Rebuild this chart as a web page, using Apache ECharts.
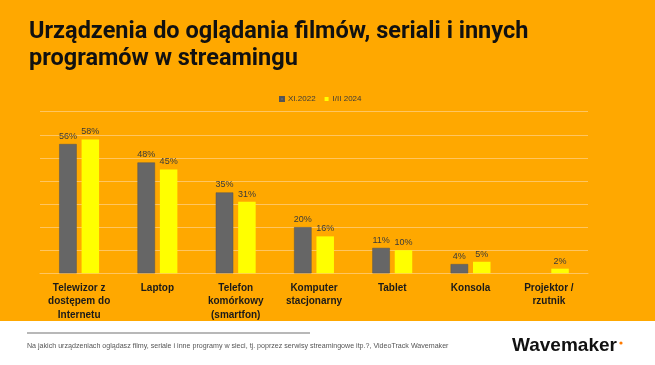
<!DOCTYPE html>
<html>
<head>
<meta charset="utf-8">
<script src="https://cdn.jsdelivr.net/npm/echarts@6/dist/echarts.min.js"></script>
<style>html,body{margin:0;padding:0;background:#fff}#c{width:655px;height:365px}</style>
</head>
<body>
<div id="c"></div>
<script>
const categories = ["Telewizor z\ndostępem do\nInternetu", "Laptop", "Telefon\nkomórkowy\n(smartfon)", "Komputer\nstacjonarny", "Tablet", "Konsola", "Projektor /\nrzutnik"];
const seriesNames = ["XI.2022", "I/II 2024"];
const valuesXI2022 = [56, 48, 35, 20, 11, 4, null];
const valuesI2024 = [58, 45, 31, 16, 10, 5, 2];
const yTicks = { min: 0, max: 70, interval: 10 };
const titleText = "Urządzenia do oglądania filmów, seriali i innych\nprogramów w streamingu";
const footnote = "Na jakich urządzeniach oglądasz filmy, seriale i inne programy w sieci, tj. poprzez serwisy streamingowe itp.?, VideoTrack Wavemaker";
const brand = "Wavemaker";

const chart = echarts.init(document.getElementById('c'), null, { renderer: 'canvas' });
const labelCfg = {
  show: true, position: 'top', distance: 3,
  formatter: p => p.value == null ? '' : p.value + '%',
  fontFamily: 'Liberation Sans', fontSize: 9, color: '#3a3a3a'
};
chart.setOption({
  backgroundColor: '#FFA800',
  animation: false,
  title: {
    text: titleText, left: 24, top: 14,
    textStyle: { fontFamily: 'Roboto', fontWeight: 700, fontSize: 23.5, lineHeight: 26.5, color: '#111' }
  },
  legend: {
    data: seriesNames, top: 90, left: 274,
    itemWidth: 4, itemHeight: 4, itemGap: 9,
    icon: 'rect',
    textStyle: { fontFamily: 'Liberation Sans', fontSize: 8, color: '#3a3a3a', padding: [0, 0, 0, -1] }
  },
  grid: { left: 40, right: 67, top: 111.7, bottom: 91.7 },
  xAxis: {
    type: 'category', data: categories,
    axisLine: { show: true, lineStyle: { color: '#FFC560', width: 1 } },
    axisTick: { show: false },
    axisLabel: { interval: 0, margin: 8, fontFamily: 'Liberation Sans', fontWeight: 'bold', fontSize: 10, lineHeight: 13.5, color: '#1a1a1a' }
  },
  yAxis: {
    type: 'value', min: yTicks.min, max: yTicks.max, interval: yTicks.interval,
    axisLabel: { show: false }, axisLine: { show: false }, axisTick: { show: false },
    splitLine: { lineStyle: { color: '#FFC560', width: 1 } }
  },
  series: [
    { name: seriesNames[0], type: 'bar', data: valuesXI2022, barWidth: 17.5, barGap: '28%',
      itemStyle: { color: '#666666', borderColor: '#555555', borderWidth: 0.5 }, label: labelCfg },
    { name: seriesNames[1], type: 'bar', data: valuesI2024, barWidth: 17.5,
      itemStyle: { color: '#FFFF00' }, label: labelCfg }
  ],
  graphic: [
    { type: 'rect', left: 0, top: 321, shape: { width: 655, height: 44 }, style: { fill: '#ffffff' }, z: 10 },
    { type: 'line', shape: { x1: 27, y1: 333, x2: 310, y2: 333 }, style: { stroke: '#a0a0a0', lineWidth: 1.5 }, z: 11 },
    { type: 'text', x: 27, y: 346, style: { text: footnote, fontFamily: 'Liberation Sans', fontSize: 7.1, fill: '#555', textVerticalAlign: 'middle' }, z: 11 },
    { type: 'text', x: 512, y: 346, style: { text: brand, fontFamily: 'Liberation Sans', fontWeight: 'bold', fontSize: 19, fill: '#111', textVerticalAlign: 'middle' }, z: 11 },
    { type: 'circle', shape: { cx: 621, cy: 343, r: 1.6 }, style: { fill: '#FF7A00' }, z: 11 }
  ]
});
</script>
</body>
</html>
